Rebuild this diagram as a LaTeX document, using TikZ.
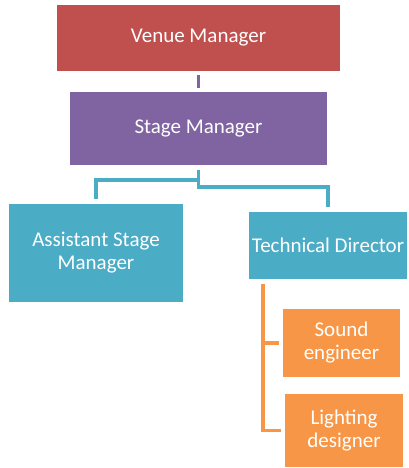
\documentclass[tikz,border=0pt]{standalone}
\usepackage{fontspec}
\setmainfont{Carlito}
\definecolor{venuered}{HTML}{C0504D}
\definecolor{stagepurple}{HTML}{8064A2}
\definecolor{crewteal}{HTML}{4BACC6}
\definecolor{techorange}{HTML}{F79646}
\begin{document}
\begin{tikzpicture}[x=1pt,y=-1pt,
    box/.style={rectangle, inner sep=0pt, text=white, align=center, font=\fontsize{21}{23}\selectfont},
    link/.style={line width=3.8pt}]
   \useasboundingbox (0,0) rectangle (409,468);
   % boxes
   \node[box, fill=venuered, minimum width=283pt, minimum height=66pt] (venue) at (198.5,38) {Venue Manager};
   \node[box, fill=stagepurple, minimum width=257pt, minimum height=73pt] (stage) at (198.5,128.5) {Stage Manager};
   \node[box, fill=crewteal, minimum width=174pt, minimum height=98pt] (assist) at (96,253) {Assistant Stage\\Manager};
   \node[box, fill=crewteal, minimum width=158pt, minimum height=67pt] (tech) at (328,245.5) {Technical Director};
   \node[box, fill=techorange, minimum width=117pt, minimum height=68pt] (sound) at (341.5,343) {Sound\\engineer};
   \node[box, fill=techorange, minimum width=118pt, minimum height=73pt] (light) at (344,430.5) {Lighting\\designer};
   % connectors
   \draw[link, stagepurple] ([yshift=-4pt]venue.south) -- ([yshift=4pt]stage.north);
   \draw[link, crewteal] ([yshift=-5pt]stage.south) -- ([yshift=-22pt]stage.south) -| ([yshift=5pt]tech.north);
   \draw[link, crewteal] ([yshift=-15pt]stage.south) -| ([yshift=5pt]assist.north);
   \draw[link, techorange] ([xshift=14pt,yshift=-5pt]tech.south west) |- ([xshift=-4pt]light.west);
   \draw[link, techorange] ([xshift=-4pt]sound.west) -- ([xshift=-20pt]sound.west);
\end{tikzpicture}
\end{document}
